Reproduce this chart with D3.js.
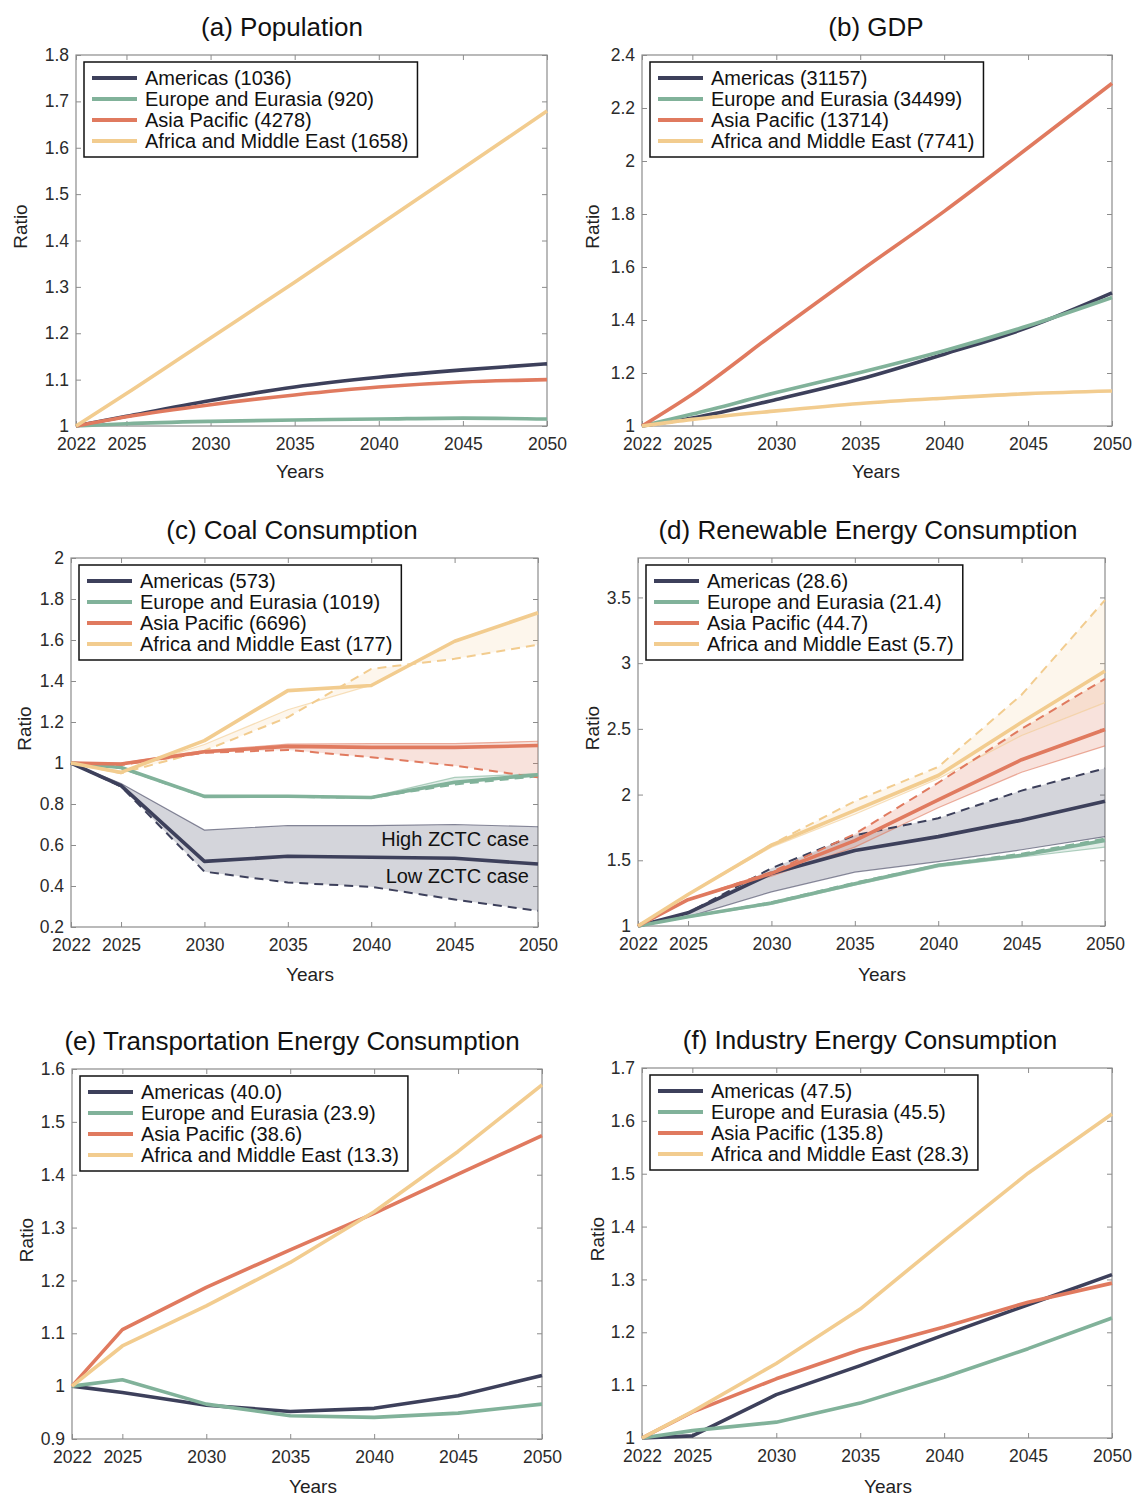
<!DOCTYPE html>
<html>
<head>
<meta charset="utf-8">
<script src="https://cdn.jsdelivr.net/npm/d3@7"></script>
<style>
  body { margin: 0; background: #fff; }
  svg text { font-family: "Liberation Sans", Arial, sans-serif; }
</style>
</head>
<body>
<svg id="chart" width="1133" height="1497"></svg>
<script>
// years on the x axis
const years = [2022, 2025, 2030, 2035, 2040, 2045, 2050];
const regions = ["Americas", "Europe and Eurasia", "Asia Pacific", "Africa and Middle East"];
const regionColors = ["#3d405b", "#81b29a", "#e07a5f", "#f2cc8f"];

// (a) population
const popAmericas = [1, 1.021, 1.055, 1.084, 1.105, 1.121, 1.134];
const popEurope   = [1, 1.005, 1.010, 1.013, 1.015, 1.017, 1.015];
const popAsia     = [1, 1.020, 1.046, 1.067, 1.084, 1.095, 1.100];
const popAfrica   = [1, 1.070, 1.190, 1.310, 1.433, 1.556, 1.679];
const popTotals   = ["1036", "920", "4278", "1658"];
const popTicks    = [1, 1.1, 1.2, 1.3, 1.4, 1.5, 1.6, 1.7, 1.8];

// (b) GDP
const gdpAmericas = [1, 1.030, 1.100, 1.177, 1.271, 1.372, 1.502];
const gdpEurope   = [1, 1.045, 1.126, 1.202, 1.284, 1.378, 1.485];
const gdpAsia     = [1, 1.120, 1.355, 1.585, 1.810, 2.050, 2.293];
const gdpAfrica   = [1, 1.025, 1.057, 1.085, 1.105, 1.122, 1.132];
const gdpTotals   = ["31157", "34499", "13714", "7741"];
const gdpTicks    = [1, 1.2, 1.4, 1.6, 1.8, 2, 2.2, 2.4];

// (c) coal consumption: main case, high ZCTC case (thin), low ZCTC case (dashed)
const coalAmericas     = [1, 0.890, 0.520, 0.545, 0.540, 0.535, 0.507];
const coalAmericasHigh = [1, 0.900, 0.673, 0.695, 0.695, 0.700, 0.689];
const coalAmericasLow  = [1, 0.885, 0.470, 0.417, 0.396, 0.334, 0.279];
const coalEurope       = [1, 0.978, 0.837, 0.838, 0.832, 0.906, 0.943];
const coalEuropeHigh   = [1, 0.980, 0.840, 0.840, 0.835, 0.930, 0.948];
const coalEuropeLow    = [1, 0.975, 0.835, 0.835, 0.830, 0.895, 0.935];
const coalAsia         = [1, 0.995, 1.055, 1.081, 1.076, 1.076, 1.085];
const coalAsiaHigh     = [1, 1.000, 1.060, 1.092, 1.095, 1.095, 1.106];
const coalAsiaLow      = [1, 0.990, 1.050, 1.064, 1.028, 0.987, 0.930];
const coalAfrica       = [1, 0.954, 1.109, 1.353, 1.378, 1.594, 1.733];
const coalAfricaHigh   = [1, 0.960, 1.090, 1.260, 1.380, 1.594, 1.733];
const coalAfricaLow    = [1, 0.950, 1.060, 1.223, 1.459, 1.508, 1.577];
const coalTotals       = ["573", "1019", "6696", "177"];
const coalTicks        = [0.2, 0.4, 0.6, 0.8, 1, 1.2, 1.4, 1.6, 1.8, 2];

// (d) renewable energy consumption
const renAmericas     = [1, 1.100, 1.400, 1.575, 1.680, 1.805, 1.950];
const renAmericasHigh = [1, 1.070, 1.260, 1.410, 1.490, 1.580, 1.680];
const renAmericasLow  = [1, 1.100, 1.440, 1.690, 1.820, 2.030, 2.200];
const renEurope       = [1, 1.070, 1.175, 1.322, 1.462, 1.538, 1.650];
const renEuropeHigh   = [1, 1.065, 1.165, 1.310, 1.450, 1.525, 1.600];
const renEuropeLow    = [1, 1.070, 1.180, 1.330, 1.465, 1.550, 1.665];
const renAsia         = [1, 1.200, 1.400, 1.650, 1.960, 2.265, 2.495];
const renAsiaHigh     = [1, 1.200, 1.380, 1.600, 1.900, 2.170, 2.370];
const renAsiaLow      = [1, 1.200, 1.410, 1.700, 2.090, 2.500, 2.880];
const renAfrica       = [1, 1.240, 1.615, 1.880, 2.145, 2.550, 2.940];
const renAfricaHigh   = [1, 1.240, 1.600, 1.850, 2.120, 2.450, 2.700];
const renAfricaLow    = [1, 1.240, 1.620, 1.950, 2.210, 2.760, 3.480];
const renTotals       = ["28.6", "21.4", "44.7", "5.7"];
const renTicks        = [1, 1.5, 2, 2.5, 3, 3.5];

// (e) transportation energy consumption
const traAmericas = [1, 0.988, 0.964, 0.952, 0.958, 0.982, 1.020];
const traEurope   = [1, 1.012, 0.966, 0.944, 0.941, 0.949, 0.966];
const traAsia     = [1, 1.107, 1.187, 1.258, 1.327, 1.401, 1.474];
const traAfrica   = [1, 1.076, 1.152, 1.234, 1.330, 1.444, 1.570];
const traTotals   = ["40.0", "23.9", "38.6", "13.3"];
const traTicks    = [0.9, 1, 1.1, 1.2, 1.3, 1.4, 1.5, 1.6];

// (f) industry energy consumption
const indAmericas = [1, 1.004, 1.082, 1.137, 1.195, 1.252, 1.309];
const indEurope   = [1, 1.014, 1.030, 1.066, 1.115, 1.169, 1.227];
const indAsia     = [1, 1.049, 1.112, 1.167, 1.210, 1.257, 1.293];
const indAfrica   = [1, 1.050, 1.141, 1.244, 1.374, 1.501, 1.613];
const indTotals   = ["47.5", "45.5", "135.8", "28.3"];
const indTicks    = [1, 1.1, 1.2, 1.3, 1.4, 1.5, 1.6, 1.7];

const svg = d3.select("#chart");
const fmt = d3.format("~g");

const panels = [
  { title: "(a) Population", left: 76, right: 547, top: 55, bottom: 426, domain: [1, 1.8], ticks: popTicks,
    main: [popAmericas, popEurope, popAsia, popAfrica], totals: popTotals, smooth: true,
    ratioDx: -56, titleX: 282, yearsX: 300, yearsDy: 52 },
  { title: "(b) GDP", left: 642, right: 1112, top: 55, bottom: 426, domain: [1, 2.4], ticks: gdpTicks,
    main: [gdpAmericas, gdpEurope, gdpAsia, gdpAfrica], totals: gdpTotals, smooth: true,
    ratioDx: -50, titleX: 876, yearsX: 876, yearsDy: 52 },
  { title: "(c) Coal Consumption", left: 71, right: 538, top: 558, bottom: 927, domain: [0.2, 2], ticks: coalTicks,
    main: [coalAmericas, coalEurope, coalAsia, coalAfrica],
    high: [coalAmericasHigh, coalEuropeHigh, coalAsiaHigh, coalAfricaHigh],
    low: [coalAmericasLow, coalEuropeLow, coalAsiaLow, coalAfricaLow],
    totals: coalTotals, ratioDx: -47, notes: true, titleX: 292, yearsX: 310, yearsDy: 54 },
  { title: "(d) Renewable Energy Consumption", left: 638, right: 1105, top: 558, bottom: 926, domain: [1, 3.8], ticks: renTicks,
    main: [renAmericas, renEurope, renAsia, renAfrica],
    high: [renAmericasHigh, renEuropeHigh, renAsiaHigh, renAfricaHigh],
    low: [renAmericasLow, renEuropeLow, renAsiaLow, renAfricaLow],
    totals: renTotals, ratioDx: -46, titleX: 868, yearsX: 882, yearsDy: 55 },
  { title: "(e) Transportation Energy Consumption", left: 72, right: 542, top: 1069, bottom: 1439, domain: [0.9, 1.6], ticks: traTicks,
    main: [traAmericas, traEurope, traAsia, traAfrica], totals: traTotals,
    ratioDx: -46, titleX: 292, yearsX: 313, yearsDy: 54 },
  { title: "(f) Industry Energy Consumption", left: 642, right: 1112, top: 1068, bottom: 1438, domain: [1, 1.7], ticks: indTicks,
    main: [indAmericas, indEurope, indAsia, indAfrica], totals: indTotals,
    ratioDx: -45, titleX: 870, yearsX: 888, yearsDy: 55 }
];

panels.forEach(p => {
  const x = d3.scaleLinear().domain([2022, 2050]).range([p.left, p.right]);
  const y = d3.scaleLinear().domain(p.domain).range([p.bottom, p.top]);
  const g = svg.append("g");
  const axisColor = "#8c8c8c";

  // titulo
  g.append("text")
    .attr("x", p.titleX)
    .attr("y", p.top - 19)
    .attr("text-anchor", "middle")
    .attr("font-size", 26)
    .attr("fill", "#111")
    .text(p.title);

  // ejes (ticks hacia dentro, estilo caja)
  const styleAxis = sel => {
    sel.select(".domain").remove();
    sel.selectAll(".tick line").attr("stroke", axisColor);
    sel.selectAll(".tick text").attr("fill", "#2b2b2b").attr("font-size", 17.5)
      .attr("font-family", "Liberation Sans, Arial, sans-serif");
  };
  g.append("g").attr("transform", `translate(0,${p.bottom})`)
    .call(d3.axisBottom(x).tickValues(years).tickFormat(d3.format("d")).tickSize(-5).tickPadding(12))
    .call(styleAxis);
  g.append("g").attr("transform", `translate(0,${p.top})`)
    .call(d3.axisTop(x).tickValues(years).tickFormat("").tickSize(-5))
    .call(styleAxis);
  g.append("g").attr("transform", `translate(${p.left},0)`)
    .call(d3.axisLeft(y).tickValues(p.ticks).tickFormat(fmt).tickSize(-5).tickPadding(7))
    .call(styleAxis);
  g.append("g").attr("transform", `translate(${p.right},0)`)
    .call(d3.axisRight(y).tickValues(p.ticks).tickFormat("").tickSize(-5))
    .call(styleAxis);

  g.append("rect")
    .attr("x", p.left).attr("y", p.top)
    .attr("width", p.right - p.left).attr("height", p.bottom - p.top)
    .attr("fill", "none").attr("stroke", axisColor).attr("stroke-width", 1.2);

  // etiquetas de ejes
  g.append("text")
    .attr("x", p.yearsX)
    .attr("y", p.bottom + p.yearsDy)
    .attr("text-anchor", "middle")
    .attr("font-size", 19).attr("fill", "#222")
    .text("Years");
  g.append("text")
    .attr("transform", `translate(${p.left + p.ratioDx},${(p.top + p.bottom) / 2 - 14}) rotate(-90)`)
    .attr("text-anchor", "middle")
    .attr("dy", "0.35em")
    .attr("font-size", 19).attr("fill", "#222")
    .text("Ratio");

  const line = d3.line()
    .x((d, i) => x(years[i]))
    .y(d => y(d));
  if (p.smooth) line.curve(d3.curveMonotoneX);

  // bandas entre los casos high/low ZCTC
  if (p.high) {
    const area = d3.area()
      .x((d, i) => x(years[i]))
      .y0(d => y(d.lo))
      .y1(d => y(d.hi));
    p.high.forEach((hi, k) => {
      const pts = hi.map((v, i) => ({ hi: v, lo: p.low[k][i] }));
      g.append("path").datum(pts)
        .attr("d", area)
        .attr("fill", regionColors[k])
        .attr("fill-opacity", k === 3 ? 0.17 : 0.22);
    });
    p.high.forEach((hi, k) => {
      g.append("path").datum(hi)
        .attr("d", line).attr("fill", "none")
        .attr("stroke", regionColors[k]).attr("stroke-width", 1.2)
        .attr("stroke-opacity", 0.6);
    });
    p.low.forEach((lo, k) => {
      g.append("path").datum(lo)
        .attr("d", line).attr("fill", "none")
        .attr("stroke", regionColors[k]).attr("stroke-width", 2)
        .attr("stroke-dasharray", "9,6");
    });
  }

  // lineas principales
  p.main.forEach((vals, k) => {
    g.append("path").datum(vals)
      .attr("d", line).attr("fill", "none")
      .attr("stroke", regionColors[k]).attr("stroke-width", 3.6)
      .attr("stroke-linejoin", "round");
  });

  if (p.notes) {
    g.append("text")
      .attr("x", p.right - 9).attr("y", y(0.63)).attr("dy", "0.35em")
      .attr("text-anchor", "end").attr("font-size", 20).attr("fill", "#111")
      .text("High ZCTC case");
    g.append("text")
      .attr("x", p.right - 9).attr("y", y(0.45)).attr("dy", "0.35em")
      .attr("text-anchor", "end").attr("font-size", 20).attr("fill", "#111")
      .text("Low ZCTC case");
  }

  // leyenda
  const leg = g.append("g").attr("transform", `translate(${p.left + 8},${p.top + 7})`);
  const box = leg.append("rect").attr("fill", "#fff").attr("stroke", "#111").attr("stroke-width", 1.5);
  let maxW = 0;
  regions.forEach((r, k) => {
    const ry = 16 + k * 21;
    leg.append("line")
      .attr("x1", 8).attr("x2", 53).attr("y1", ry).attr("y2", ry)
      .attr("stroke", regionColors[k]).attr("stroke-width", 4);
    const t = leg.append("text")
      .attr("x", 61).attr("y", ry).attr("dy", "0.35em")
      .attr("font-size", 20).attr("fill", "#111")
      .text(`${r} (${p.totals[k]})`);
    maxW = Math.max(maxW, t.node().getComputedTextLength());
  });
  box.attr("x", 0).attr("y", 0).attr("width", 61 + maxW + 9).attr("height", 95);
});
</script>
</body>
</html>
